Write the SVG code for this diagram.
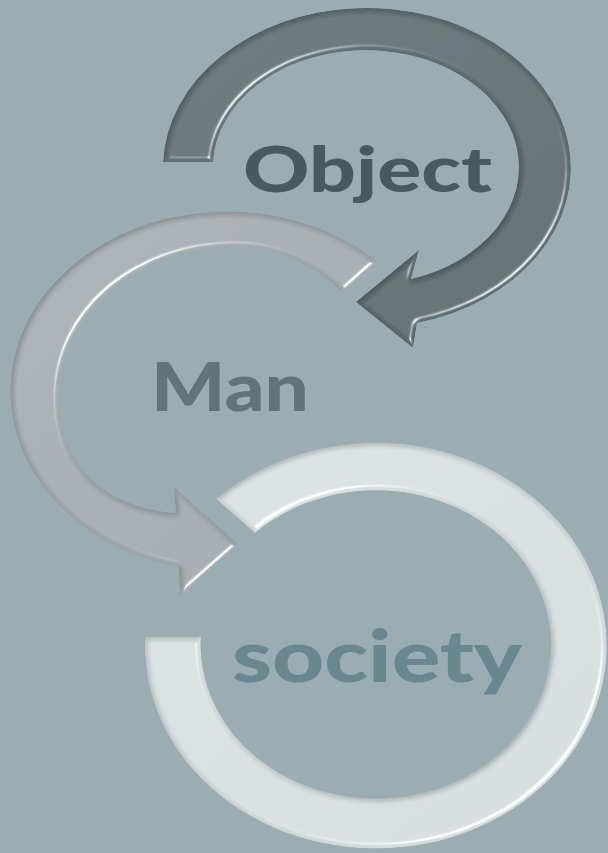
<svg xmlns="http://www.w3.org/2000/svg" width="608" height="853" viewBox="0 0 608 853">
<style>
.lbl{font-family:Lato,"Open Sans","Liberation Sans",sans-serif;font-weight:900;}
</style>
<defs>
<linearGradient id="gDark" x1="0" y1="0" x2="1" y2="1">
<stop offset="0" stop-color="#657679"/><stop offset="1" stop-color="#5b6a6d"/>
</linearGradient>
<linearGradient id="gMid" x1="0" y1="0" x2="1" y2="1">
<stop offset="0" stop-color="#a9b0b4"/><stop offset="1" stop-color="#a0a7ab"/>
</linearGradient>
<linearGradient id="gLight" x1="0" y1="0" x2="1" y2="1">
<stop offset="0" stop-color="#dae0e2"/><stop offset="1" stop-color="#d3dadc"/>
</linearGradient>
<filter id="bevel" x="-5%" y="-5%" width="110%" height="110%">
<feGaussianBlur in="SourceAlpha" stdDeviation="2.5" result="blur"/>
<feSpecularLighting in="blur" surfaceScale="5" specularConstant="1.2" specularExponent="35" lighting-color="#ffffff" result="spec">
<feDistantLight azimuth="45" elevation="40"/>
</feSpecularLighting>
<feComposite in="spec" in2="SourceAlpha" operator="in" result="specIn"/>
<feDiffuseLighting in="blur" surfaceScale="5" diffuseConstant="1" lighting-color="#ffffff" result="diff">
<feDistantLight azimuth="45" elevation="60"/>
</feDiffuseLighting>
<feComposite in="SourceGraphic" in2="diff" operator="arithmetic" k1="0.4" k2="0.654" k3="0" k4="0" result="shaded"/>
<feComposite in="shaded" in2="SourceAlpha" operator="in" result="shadedIn"/>
<feComposite in="shadedIn" in2="specIn" operator="arithmetic" k1="0" k2="1" k3="0.7" k4="0"/>
</filter>
</defs>
<rect width="608" height="853" fill="#9aadb3"/>
<g id="node-object">
<path filter="url(#bevel)" fill="url(#gDark)" d="M 163 162 A 204 160 0 1 1 417 323 L 413 348 L 356 302 L 419 250 L 411 279 A 153 117 0 1 0 213 162 Z"/>
<text class="lbl" x="243" y="192" font-size="62" fill="#485a60" textLength="249" lengthAdjust="spacingAndGlyphs">Object</text>
</g>
<g id="node-man">
<path filter="url(#bevel)" fill="url(#gMid)" d="M 378 262 A 217 180 0 1 0 179 567 L 180 597 L 239 545 L 174 487 L 176 513 C 135 510 59 490 59 395 A 174 148 0 0 1 233 247 A 152 148 0 0 1 343 293 Z"/>
<text class="lbl" x="151" y="411" font-size="67" fill="#637478" textLength="158" lengthAdjust="spacingAndGlyphs">Man</text>
</g>
<g id="node-society">
<path filter="url(#bevel)" fill="url(#gLight)" d="M 145 637 A 231 203 0 1 0 216 499 L 255 533 A 175 154 0 1 1 201 637 Z"/>
<text class="lbl" x="232" y="682" font-size="73" fill="#698790" textLength="290" lengthAdjust="spacingAndGlyphs">society</text>
</g>
<g id="connectors"/>
</svg>
